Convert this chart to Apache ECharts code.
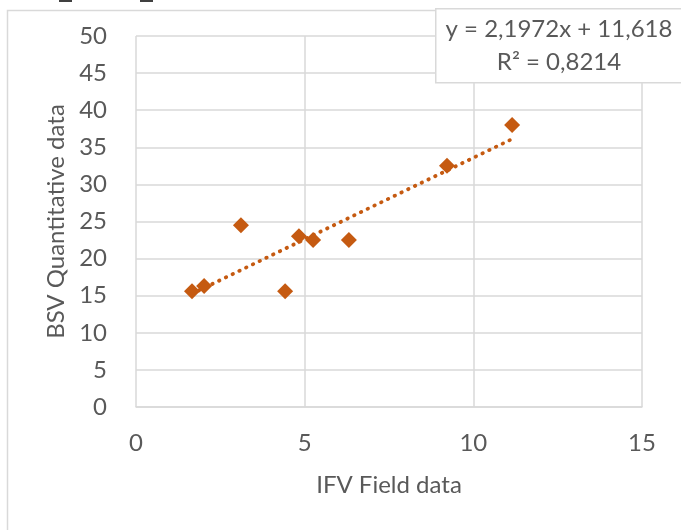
<!DOCTYPE html>
<html><head><meta charset="utf-8">
<script src="https://cdn.jsdelivr.net/npm/echarts@6/dist/echarts.min.js"></script>
<style>html,body{margin:0;padding:0;background:#fff}#c{width:681px;height:530px}</style>
</head><body><div id="c"></div>
<script>
const xValues = [1.66, 2.02, 3.11, 4.42, 4.83, 5.25, 6.31, 9.22, 11.15];
const yValues = [15.6, 16.3, 24.5, 15.6, 23.0, 22.5, 22.5, 32.5, 38.0];
const trendSlope = 2.1972;
const trendIntercept = 11.618;
const equationText = 'y = 2,1972x + 11,618';
const r2Text = 'R² = 0,8214';
const xTitle = 'IFV Field data';
const yTitle = 'BSV Quantitative data';

const pts = xValues.map((x, i) => [x, yValues[i]]);
const xmin = Math.min(...xValues), xmax = Math.max(...xValues);
const trend = [[xmin, trendSlope * xmin + trendIntercept], [xmax, trendSlope * xmax + trendIntercept]];
const color = '#C55A11';
const font = 'Lato, "Open Sans", sans-serif';
const fs = 24;

const chart = echarts.init(document.getElementById('c'));
chart.setOption({
  animation: false,
  backgroundColor: '#fff',
  grid: { left: 136, right: 39, top: 36, bottom: 123 },
  xAxis: {
    type: 'value', min: 0, max: 15, interval: 5,
    name: xTitle, nameLocation: 'middle', nameGap: 66,
    nameTextStyle: { fontSize: fs, color: '#595959', fontFamily: font },
    axisLine: { show: true, lineStyle: { color: '#d9d9d9', width: 1.5 } },
    axisTick: { show: false },
    axisLabel: { fontSize: fs, color: '#595959', fontFamily: font, margin: 24 },
    splitLine: { show: true, lineStyle: { color: '#d9d9d9', width: 1.5 } }
  },
  yAxis: {
    type: 'value', min: 0, max: 50, interval: 5,
    name: yTitle, nameLocation: 'middle', nameGap: 65,
    nameTextStyle: { fontSize: fs, color: '#595959', fontFamily: font },
    axisLine: { show: false },
    axisTick: { show: false },
    axisLabel: { fontSize: fs, color: '#595959', fontFamily: font, margin: 29 },
    splitLine: { show: true, lineStyle: { color: '#d9d9d9', width: 1.5 } }
  },
  series: [
    {
      type: 'line', data: trend, symbol: 'none', silent: true, z: 1,
      lineStyle: { color: color, width: 3.8, type: [0.5, 7], cap: 'round' }
    },
    {
      type: 'scatter', data: pts, symbol: 'diamond', symbolSize: [16, 16], z: 2,
      itemStyle: { color: color, opacity: 1 }
    }
  ],
  graphic: [
    { type: 'rect', left: 5, top: 8, shape: { width: 700, height: 540 }, style: { fill: 'none', stroke: '#d9d9d9', lineWidth: 1.5 }, z: -10 },
    { type: 'rect', left: 59, top: 0, shape: { width: 13, height: 2 }, style: { fill: '#404040' } },
    { type: 'rect', left: 140, top: 0, shape: { width: 13, height: 2 }, style: { fill: '#404040' } },
    { type: 'rect', left: 435, top: 8, shape: { width: 260, height: 74 }, style: { fill: '#fff', stroke: '#d9d9d9', lineWidth: 1.5 }, z: 10 },
    { type: 'text', x: 559, y: 29, z: 11, style: { text: equationText, fontSize: fs, fill: '#595959', fontFamily: font, align: 'center', verticalAlign: 'middle' } },
    { type: 'text', x: 559, y: 62, z: 11, style: { text: r2Text, fontSize: fs, fill: '#595959', fontFamily: font, align: 'center', verticalAlign: 'middle' } }
  ]
});
</script></body></html>
